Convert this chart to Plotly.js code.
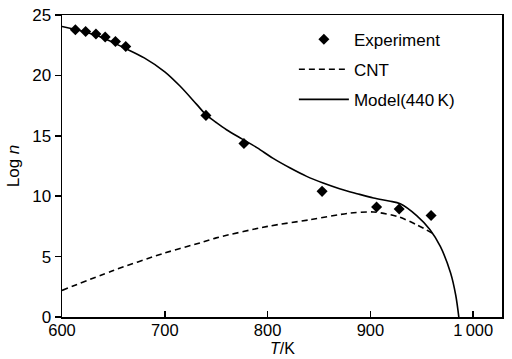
<!DOCTYPE html>
<html>
<head>
<meta charset="utf-8">
<script src="https://cdn.plot.ly/plotly-3.0.1.min.js"></script>
<style>html,body{margin:0;padding:0;background:#fff;}#chart{width:512px;height:359px;}</style>
</head>
<body>
<div id="chart"></div>
<script>
// Experiment data
const expT = [613, 623, 633, 642, 652, 662, 740, 777, 853, 906, 928, 959];
const expLogN = [23.78, 23.64, 23.43, 23.18, 22.81, 22.40, 16.69, 14.37, 10.4, 9.1, 8.94, 8.41];

// CNT curve
const cntT = [600, 650, 700, 734, 750, 800, 841, 880, 903, 926, 945, 960];
const cntLogN = [2.2, 3.85, 5.3, 6.13, 6.55, 7.5, 8.05, 8.6, 8.69, 8.33, 7.64, 6.95];

// Model (440 K) curve
const modelT = [600, 620, 640, 660, 680, 700, 715, 731, 740, 750, 760, 775, 790, 805, 822, 838, 854, 870, 887, 903, 918, 929, 945, 958, 968, 978, 983, 986];
const modelLogN = [24.05, 23.65, 23.1, 22.3, 21.45, 20.3, 19.1, 17.6, 16.75, 16.1, 15.5, 14.75, 14.0, 13.15, 12.33, 11.64, 11.09, 10.62, 10.21, 9.85, 9.6, 9.38, 8.4, 7.23, 5.84, 3.64, 1.8, 0];

const xTickVals = [600, 700, 800, 900, 1000];
const xTickText = ['600', '700', '800', '900', '1\u2009000'];
const yTickVals = [0, 5, 10, 15, 20, 25];

const fontFam = '"Liberation Sans", Arial, Helvetica, sans-serif';

const traces = [
  {x: expT, y: expLogN, mode: 'markers', type: 'scatter', name: 'Experiment', legendgroup: 'a',
   marker: {symbol: 'diamond', size: 8.5, color: '#000'}},
  {x: cntT, y: cntLogN, mode: 'lines', type: 'scatter', name: 'CNT', legendgroup: 'b',
   line: {color: '#000', width: 1.6, dash: '6px,4px', shape: 'spline', smoothing: 0.8}},
  {x: modelT, y: modelLogN, mode: 'lines', type: 'scatter', name: 'Model(440\u2009K)', legendgroup: 'c',
   line: {color: '#000', width: 1.6, shape: 'spline', smoothing: 0.9}}
];

const layout = {
  width: 512, height: 359,
  margin: {l: 62, r: 10, t: 15, b: 42},
  paper_bgcolor: '#fff', plot_bgcolor: '#fff',
  font: {family: fontFam, size: 17, color: '#000'},
  showlegend: true,
  legend: {x: 0.527, y: 0.978, xanchor: 'left', yanchor: 'top', bgcolor: 'rgba(0,0,0,0)',
           font: {size: 17}, itemwidth: 50, tracegroupgap: 5, traceorder: 'grouped'},
  xaxis: {range: [600, 1028], tickvals: xTickVals, ticktext: xTickText,
          ticks: 'inside', ticklen: 6, tickwidth: 1.5, tickcolor: '#000',
          tickfont: {size: 16.5}, ticklabelstandoff: -2,
          showline: true, linewidth: 1.5, linecolor: '#000', mirror: true,
          showgrid: false, zeroline: false},
  yaxis: {range: [0, 25], tickvals: yTickVals,
          ticks: 'outside', ticklen: 6, tickwidth: 1.5, tickcolor: '#000',
          showline: true, linewidth: 1.5, linecolor: '#000', mirror: true,
          showgrid: false, zeroline: false,
          title: {text: 'Log <i>n</i>', font: {size: 17}, standoff: 8}},
  annotations: [
    {text: '<i>T</i>/K', xref: 'paper', yref: 'paper', x: 0.5, y: 0, xanchor: 'center', yanchor: 'bottom',
     yshift: -41.5, showarrow: false, font: {size: 16}}
  ]
};

Plotly.newPlot('chart', traces, layout, {displayModeBar: false, staticPlot: true});
</script>
</body>
</html>
